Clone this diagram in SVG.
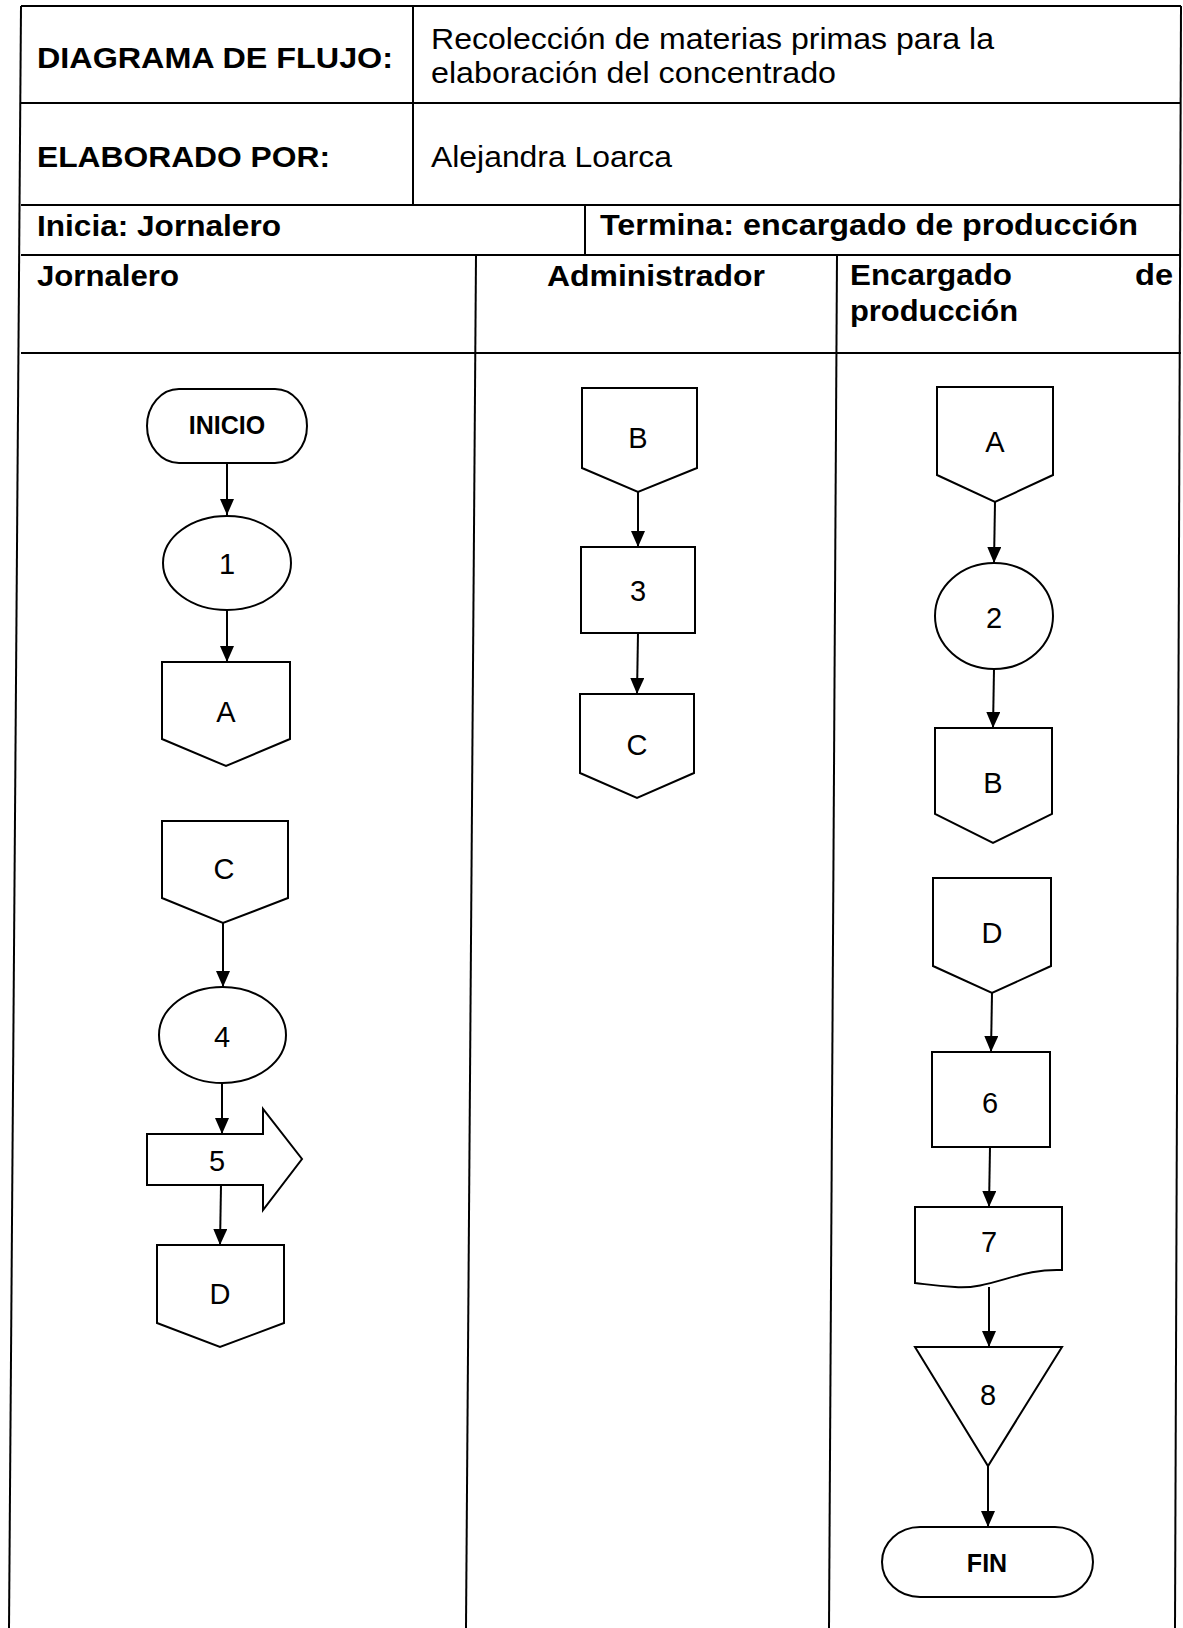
<svg xmlns="http://www.w3.org/2000/svg" width="1183" height="1628" viewBox="0 0 1183 1628">
<style>
.bg{fill:#ffffff}
.grid{stroke:#000;stroke-width:2;fill:none}
.shape{stroke:#000;stroke-width:2;fill:#fff}
.conn{stroke:#000;stroke-width:2;fill:none;marker-end:url(#ah)}
.hb{font-family:"Liberation Sans",Arial,sans-serif;font-weight:bold;font-size:29px;fill:#000}
.hr{font-family:"Liberation Sans",Arial,sans-serif;font-size:29px;fill:#000}
.lbl{font-family:"Liberation Sans",Arial,sans-serif;font-size:29px;fill:#000;text-anchor:middle}
.lblb{font-family:"Liberation Sans",Arial,sans-serif;font-weight:bold;font-size:25px;fill:#000;text-anchor:middle}
</style>
<defs>
<marker id="ah" markerUnits="userSpaceOnUse" viewBox="0 0 16 14" markerWidth="16" markerHeight="14" refX="16" refY="7" orient="auto">
<path d="M0,0 L16,7 L0,14 Z" fill="#000"/>
</marker>
</defs>
<rect class="bg" x="0" y="0" width="1183" height="1628"/>

<g id="table">
<line class="grid" x1="21" y1="6" x2="1181" y2="6"/>
<line class="grid" x1="21" y1="6" x2="9" y2="1628"/>
<line class="grid" x1="1181" y1="6" x2="1175" y2="1628"/>
<line class="grid" x1="21" y1="103" x2="1181" y2="103"/>
<line class="grid" x1="21" y1="205" x2="1181" y2="205"/>
<line class="grid" x1="21" y1="255" x2="1181" y2="255"/>
<line class="grid" x1="21" y1="353" x2="1181" y2="353"/>
<line class="grid" x1="413" y1="6" x2="413" y2="205"/>
<line class="grid" x1="585" y1="205" x2="585" y2="255"/>
<line class="grid" x1="476" y1="255" x2="466" y2="1628"/>
<line class="grid" x1="837" y1="255" x2="829" y2="1628"/>
</g>

<g id="header-text">
<text class="hb" x="37" y="68" textLength="356" lengthAdjust="spacingAndGlyphs">DIAGRAMA DE FLUJO:</text>
<text class="hr" x="431" y="49" textLength="563" lengthAdjust="spacingAndGlyphs">Recolección de materias primas para la</text>
<text class="hr" x="431" y="83" textLength="405" lengthAdjust="spacingAndGlyphs">elaboración del concentrado</text>
<text class="hb" x="37" y="167" textLength="293" lengthAdjust="spacingAndGlyphs">ELABORADO POR:</text>
<text class="hr" x="431" y="167" textLength="241" lengthAdjust="spacingAndGlyphs">Alejandra Loarca</text>
<text class="hb" x="37" y="236" textLength="244" lengthAdjust="spacingAndGlyphs">Inicia: Jornalero</text>
<text class="hb" x="600" y="235" textLength="538" lengthAdjust="spacingAndGlyphs">Termina: encargado de producción</text>
<text class="hb" x="37" y="286" textLength="142" lengthAdjust="spacingAndGlyphs">Jornalero</text>
<text class="hb" x="547" y="286" textLength="218" lengthAdjust="spacingAndGlyphs">Administrador</text>
<text class="hb" x="850" y="285" textLength="162" lengthAdjust="spacingAndGlyphs">Encargado</text>
<text class="hb" x="1135" y="285" textLength="38" lengthAdjust="spacingAndGlyphs">de</text>
<text class="hb" x="850" y="321" textLength="168" lengthAdjust="spacingAndGlyphs">producción</text>
</g>

<g id="connectors">
<line class="conn" x1="227" y1="463" x2="227" y2="515"/>
<line class="conn" x1="227" y1="610" x2="227" y2="662"/>
<line class="conn" x1="638" y1="492" x2="638" y2="547"/>
<line class="conn" x1="638" y1="633" x2="637" y2="694"/>
<line class="conn" x1="995" y1="502" x2="994" y2="563"/>
<line class="conn" x1="994" y1="669" x2="993" y2="728"/>
<line class="conn" x1="223" y1="923" x2="223" y2="987"/>
<line class="conn" x1="222" y1="1083" x2="222" y2="1134"/>
<line class="conn" x1="221" y1="1185" x2="220" y2="1245"/>
<line class="conn" x1="992" y1="993" x2="991" y2="1052"/>
<line class="conn" x1="990" y1="1147" x2="989" y2="1207"/>
<line class="conn" x1="989" y1="1287" x2="989" y2="1347"/>
<line class="conn" x1="988" y1="1466" x2="988" y2="1527"/>
</g>

<g id="n-inicio">
<rect class="shape" x="147" y="389" width="160" height="74" rx="32" ry="37"/>
<text class="lblb" x="227" y="434">INICIO</text>
</g>
<g id="n-1">
<ellipse class="shape" cx="227" cy="563" rx="64" ry="47"/>
<text class="lbl" x="227" y="574">1</text>
</g>
<g id="n-A-out">
<path class="shape" d="M162,662 L290,662 L290,739 L226,766 L162,739 Z"/>
<text class="lbl" x="226" y="722">A</text>
</g>
<g id="n-C-in">
<path class="shape" d="M162,821 L288,821 L288,898 L223,923 L162,898 Z"/>
<text class="lbl" x="224" y="879">C</text>
</g>
<g id="n-4">
<ellipse class="shape" cx="222.5" cy="1035" rx="63.5" ry="48"/>
<text class="lbl" x="222" y="1047">4</text>
</g>
<g id="n-5">
<path class="shape" d="M147,1134 L263,1134 L263,1109 L302,1159 L263,1210 L263,1185 L147,1185 Z"/>
<text class="lbl" x="217" y="1171">5</text>
</g>
<g id="n-D-out">
<path class="shape" d="M157,1245 L284,1245 L284,1323 L220,1347 L157,1323 Z"/>
<text class="lbl" x="220" y="1304">D</text>
</g>

<g id="n-B-in">
<path class="shape" d="M582,388 L697,388 L697,468 L638,492 L582,468 Z"/>
<text class="lbl" x="638" y="448">B</text>
</g>
<g id="n-3">
<rect class="shape" x="581" y="547" width="114" height="86"/>
<text class="lbl" x="638" y="601">3</text>
</g>
<g id="n-C-out">
<path class="shape" d="M580,694 L694,694 L694,773 L637,798 L580,773 Z"/>
<text class="lbl" x="637" y="755">C</text>
</g>

<g id="n-A-in">
<path class="shape" d="M937,387 L1053,387 L1053,475 L995,502 L937,475 Z"/>
<text class="lbl" x="995" y="452">A</text>
</g>
<g id="n-2">
<ellipse class="shape" cx="994" cy="616" rx="59" ry="53"/>
<text class="lbl" x="994" y="628">2</text>
</g>
<g id="n-B-out">
<path class="shape" d="M935,728 L1052,728 L1052,814 L993,843 L935,814 Z"/>
<text class="lbl" x="993" y="793">B</text>
</g>
<g id="n-D-in">
<path class="shape" d="M933,878 L1051,878 L1051,966 L992,993 L933,966 Z"/>
<text class="lbl" x="992" y="943">D</text>
</g>
<g id="n-6">
<rect class="shape" x="932" y="1052" width="118" height="95"/>
<text class="lbl" x="990" y="1113">6</text>
</g>
<g id="n-7">
<path class="shape" d="M915,1207 L1062,1207 L1062,1270 C1020,1268 990,1290 955,1287 C935,1286 925,1284 915,1283 Z"/>
<text class="lbl" x="989" y="1252">7</text>
</g>
<g id="n-8">
<path class="shape" d="M915,1347 L1062,1347 L988,1466 Z"/>
<text class="lbl" x="988" y="1405">8</text>
</g>
<g id="n-fin">
<rect class="shape" x="882" y="1527" width="211" height="70" rx="38" ry="35"/>
<text class="lblb" x="987" y="1572">FIN</text>
</g>
</svg>
